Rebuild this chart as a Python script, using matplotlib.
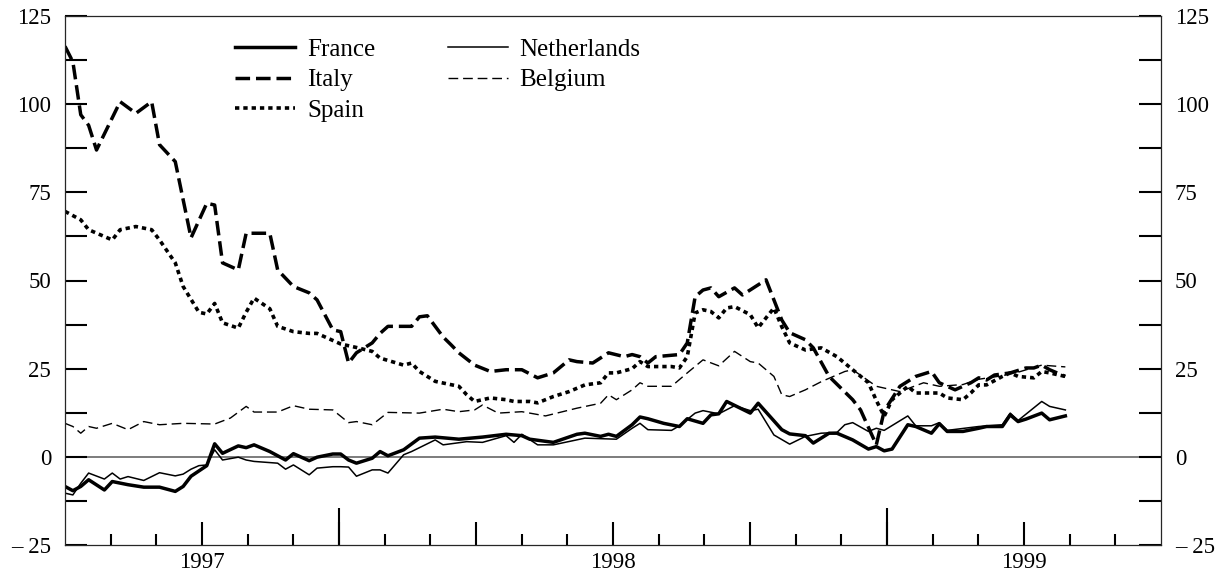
import numpy as np
import matplotlib
matplotlib.use("Agg")
import matplotlib.pyplot as plt
from matplotlib.ticker import FixedLocator, FuncFormatter, MultipleLocator

plt.rcParams["font.family"] = ["Liberation Serif", "DejaVu Serif"]

# weekly observations, week 0 = start of September 1996
START = 1996 + 8 / 12

france_wk = [0, 1, 2, 3, 5, 6, 8, 10, 12, 14, 15, 16, 17, 18, 19, 20, 22, 23, 24, 26,
             28, 29, 31, 32, 34, 35, 36, 37, 39, 40, 41, 43, 45, 47, 50, 53, 56, 58, 59, 62,
             65, 66, 68, 69, 70, 72, 73, 74, 76, 78, 79, 81, 82, 83, 84, 87, 88, 91, 92, 94,
             95, 97, 98, 100, 102, 103, 104, 105, 107, 108, 110, 111, 112, 114, 116, 117, 119, 120, 121, 122,
             124, 125, 127]
france = [-8.4, -9.6, -8.4, -6.5, -9.4, -7.0, -7.9, -8.6, -8.6, -9.8, -8.4, -5.5, -4.0, -2.5, 3.7, 1.0, 3.1, 2.6, 3.4, 1.5,
          -0.9, 0.9, -1.1, -0.1, 0.8, 0.8, -0.9, -1.8, -0.4, 1.5, 0.3, 2.0, 5.3, 5.6, 5.0, 5.6, 6.4, 6.0, 5.0, 4.1,
          6.4, 6.7, 5.8, 6.4, 5.8, 9.1, 11.3, 10.8, 9.5, 8.6, 10.8, 9.5, 11.9, 12.2, 15.7, 12.4, 15.2, 7.7, 6.5, 6.0,
          3.9, 6.7, 6.7, 4.8, 2.2, 2.9, 1.7, 2.2, 9.1, 8.6, 6.7, 9.4, 7.2, 7.2, 8.1, 8.6, 8.6, 11.9, 10.0, 10.7,
          12.4, 10.5, 11.6]

neth_wk = [0, 1, 2, 3, 5, 6, 7, 8, 10, 12, 14, 15, 16, 17, 18, 19, 20, 22, 23, 24,
           27, 28, 29, 31, 32, 34, 35, 36, 37, 39, 40, 41, 43, 44, 47, 48, 51, 53, 56, 57,
           58, 60, 62, 66, 70, 72, 73, 74, 77, 78, 80, 81, 83, 85, 87, 88, 90, 92, 94, 96,
           98, 99, 100, 102, 103, 104, 107, 108, 110, 111, 112, 116, 119, 120, 121, 124, 125, 127]
netherlands = [-10.3, -10.8, -7.5, -4.6, -6.3, -4.6, -6.3, -5.6, -6.7, -4.5, -5.4, -4.9, -3.5, -2.5, -2.3, 2.0, -0.9, -0.1, -0.9, -1.3,
               -1.8, -3.5, -2.3, -5.1, -3.2, -2.8, -2.8, -2.9, -5.5, -3.7, -3.7, -4.6, 0.6, 1.5, 4.8, 3.4, 4.3, 4.1, 6.0, 4.1,
               6.4, 3.4, 3.4, 5.3, 5.0, 8.1, 9.5, 7.7, 7.5, 8.8, 12.4, 13.1, 12.2, 14.5, 13.1, 13.5, 6.2, 3.6, 5.8, 6.7,
               6.9, 9.1, 9.7, 7.2, 8.1, 7.5, 11.6, 8.8, 8.8, 9.7, 7.5, 8.6, 9.1, 12.4, 10.3, 15.7, 14.3, 13.3]

italy_wk = [0, 1, 2, 3, 4, 7, 9, 11, 12, 14, 16, 18, 19, 20, 22, 23, 26, 27, 29, 31,
            32, 34, 35, 36, 37, 39, 40, 41, 44, 45, 46, 48, 49, 50, 52, 54, 56, 58, 60, 62,
            64, 65, 67, 69, 71, 72, 73, 74, 75, 78, 79, 80, 81, 82, 83, 85, 86, 89, 90, 91,
            92, 94, 95, 97, 100, 101, 103, 104, 106, 108, 110, 111, 113, 115, 116, 117, 118, 120, 122, 123,
            124, 125, 127]
italy = [116.4, 112.0, 97.0, 94.0, 87.0, 100.7, 97.4, 100.7, 88.5, 83.7, 62.1, 71.9, 71.4, 55.0, 53.0, 63.4, 63.4, 53.0, 48.3, 46.5,
         44.5, 36.0, 35.5, 26.6, 29.5, 32.3, 35.0, 37.0, 37.0, 39.7, 40.0, 34.0, 31.8, 29.5, 26.0, 24.2, 24.7, 24.7, 22.4, 23.8,
         27.5, 27.0, 26.6, 29.5, 28.4, 29.0, 28.4, 26.6, 28.4, 29.0, 32.3, 45.4, 47.3, 47.9, 45.4, 47.9, 45.9, 50.2, 44.5, 38.8,
         35.2, 33.2, 30.9, 22.8, 16.2, 13.3, 3.4, 13.0, 20.0, 22.8, 24.2, 21.0, 19.0, 21.0, 22.4, 21.8, 23.2, 23.8, 25.2, 25.2,
         26.0, 24.7, 22.8]

belg_wk = [0, 1, 2, 3, 4, 6, 8, 10, 12, 15, 19, 21, 23, 24, 27, 29, 31, 34, 36, 37,
           39, 41, 45, 48, 50, 52, 53, 55, 58, 61, 65, 68, 69, 70, 72, 73, 74, 77, 79, 81,
           83, 85, 87, 88, 90, 91, 92, 94, 96, 99, 100, 103, 106, 109, 111, 114, 116, 119, 121, 124,
           127]
belgium = [9.5, 8.6, 6.7, 8.6, 8.1, 9.5, 7.7, 10.0, 9.1, 9.5, 9.3, 11.0, 14.3, 12.7, 12.7, 14.5, 13.5, 13.3, 9.7, 10.0,
           9.1, 12.6, 12.4, 13.5, 12.8, 13.3, 14.7, 12.4, 12.8, 11.6, 13.8, 15.2, 17.6, 16.2, 19.0, 21.0, 20.0, 20.0, 23.8, 27.5,
           25.8, 29.9, 27.0, 26.6, 22.8, 17.6, 17.1, 19.0, 21.3, 24.2, 24.7, 20.0, 18.5, 21.0, 20.0, 20.5, 22.0, 23.0, 24.0, 26.0,
           25.5]

spain_wk = [0, 2, 3, 6, 7, 9, 11, 12, 14, 15, 17, 18, 19, 20, 22, 23, 24, 26, 27, 29,
            31, 32, 34, 35, 37, 39, 40, 43, 44, 45, 47, 50, 51, 52, 54, 56, 57, 59, 60, 62,
            64, 66, 68, 69, 70, 72, 73, 74, 77, 78, 79, 80, 81, 82, 83, 84, 85, 87, 88, 90,
            91, 92, 94, 96, 98, 100, 102, 103, 104, 105, 107, 108, 110, 111, 112, 114, 115, 116, 117, 119,
            120, 121, 123, 124, 125, 127]
spain = [69.6, 67.2, 64.4, 61.5, 64.4, 65.3, 64.4, 61.5, 55.0, 48.3, 41.0, 40.5, 43.5, 38.0, 36.5, 41.0, 45.0, 42.0, 37.0, 35.5,
         35.0, 35.0, 33.0, 32.0, 31.0, 29.9, 28.0, 26.0, 26.6, 24.2, 21.4, 20.0, 17.6, 15.7, 16.7, 16.2, 15.7, 15.7, 15.3, 17.1,
         18.5, 20.4, 21.0, 23.8, 23.8, 25.0, 27.0, 25.6, 25.6, 25.2, 28.4, 40.8, 41.7, 41.2, 39.4, 42.2, 42.6, 40.3, 36.6, 42.2,
         36.9, 32.3, 30.3, 30.9, 28.4, 24.7, 21.0, 16.0, 11.5, 16.2, 20.0, 18.1, 18.1, 18.1, 16.7, 16.2, 18.1, 20.4, 20.4, 22.8,
         23.8, 22.8, 22.4, 24.2, 23.8, 22.8]

year_labels = ["1997", "1998", "1999"]


def to_year(weeks):
    return START + np.asarray(weeks) * 7 / 365.25


fig = plt.figure(figsize=(12.29, 5.8), dpi=100)
ax = fig.add_axes([65 / 1229, 35 / 580, 1096 / 1229, 529 / 580])

ax.axhline(0, color="0.35", lw=1.1, zorder=1)

ax.plot(to_year(france_wk), france, color="black", lw=2.5, label="France")
ax.plot(to_year(italy_wk), italy, color="black", lw=2.5, ls=(0, (4.2, 1.7)), label="Italy")
ax.plot(to_year(spain_wk), spain, color="black", lw=2.6, ls=(0, (1.2, 1.1)), label="Spain")
ax.plot(to_year(neth_wk), netherlands, color="black", lw=1.1, label="Netherlands")
ax.plot(to_year(belg_wk), belgium, color="black", lw=1.0, ls=(0, (7, 3.5)), label="Belgium")

ax.set_xlim(START, 1999 + 1 / 3)
ax.set_ylim(-25, 125)

# y axis: ticks inward on both sides
ax.yaxis.set_major_locator(MultipleLocator(25))
ax.yaxis.set_minor_locator(MultipleLocator(12.5))
ax.yaxis.set_major_formatter(FuncFormatter(lambda v, _: f"\u2013 {abs(int(v))}" if v < 0 else f"{int(v)}"))
ax.tick_params(axis="y", which="both", direction="in", length=16, width=1.5,
               left=True, right=True, labelleft=True, labelright=True, labelsize=16.5, pad=10)

# x axis: thirds of a year (major), ninths (minor)
majors = [START + k / 3 for k in range(1, 8)]
minors = [START + k / 9 for k in range(1, 24) if k % 3]
ax.xaxis.set_major_locator(FixedLocator(majors))
ax.xaxis.set_minor_locator(FixedLocator(minors))
labels = {1997: year_labels[0], 1998: year_labels[1], 1999: year_labels[2]}
ax.xaxis.set_major_formatter(FuncFormatter(lambda v, _: labels.get(int(round(v)), "") if abs(v - round(v)) < 1e-6 else ""))
ax.tick_params(axis="x", which="major", direction="in", length=16.3, width=1.5, labelsize=16.5, pad=5)
ax.tick_params(axis="x", which="minor", direction="in", length=8, width=1.5)

sec = ax.secondary_xaxis("bottom")
sec.set_xticks([1997 + 1 / 3, 1998 + 2 / 3])
sec.tick_params(direction="in", length=27, width=1.5, labelbottom=False)
sec.spines["bottom"].set_visible(False)

for spine in ax.spines.values():
    spine.set_linewidth(0.9)
    spine.set_color("0.15")

leg = ax.legend(loc="upper left", bbox_to_anchor=(0.155, 0.958), ncol=2, frameon=False,
                fontsize=18, handlelength=2.4, handletextpad=0.48, columnspacing=2.9,
                labelspacing=0.33, borderpad=0, borderaxespad=0)

fig.savefig("out.png", dpi=100)
